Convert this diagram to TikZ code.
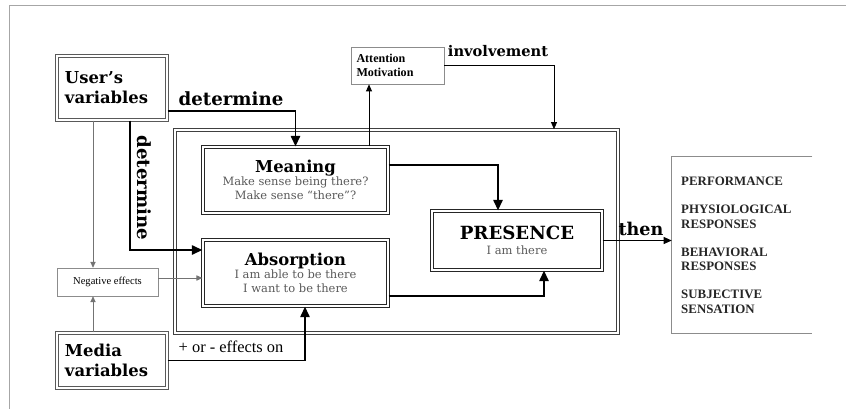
\documentclass[tikz,border=0pt]{standalone}
\usepackage{fontspec}
\setmainfont{DejaVu Serif}
\newfontfamily\timesfont{Liberation Serif}
\usetikzlibrary{arrows.meta,positioning}

\begin{document}
\begin{tikzpicture}[x=0.03cm,y=-0.03cm,
  varbox/.style={draw=black!65,double,double distance=1.1pt,line width=0.9pt,
    align=left,text width=2.82cm,minimum width=3.3cm,
    font=\bfseries\fontsize{14}{17}\selectfont},
  stagebox/.style={draw=black!85,double=white,double distance=1pt,line width=1.1pt,
    align=center,minimum width=5.55cm,minimum height=1.98cm,inner sep=1pt},
  notebox/.style={draw=black!45,line width=0.5pt,inner sep=2pt},
  heavy/.style={line width=1.5pt,-{Triangle[length=9pt,width=8pt]}},
  light/.style={line width=0.6pt,black!55,-{Triangle[length=5pt,width=4.5pt]}},
  tag/.style={font=\bfseries\fontsize{15.5}{17}\selectfont},
  sub/.style={font=\fontsize{9.8}{12.5}\selectfont,text=black!65}
]
\useasboundingbox (0,0) rectangle (846,409);
\draw[black!35,line width=0.6pt] (846,5) -- (9,5) -- (9,409);

% outer frame
\node[draw=black!75,double,double distance=1.2pt,line width=1.3pt,
  minimum width=13.29cm,minimum height=6.09cm] (frame) at (396.5,231.5) {};

% variables
\node[varbox,minimum height=1.92cm] (users) at (112,88) {User's\\variables};
\node[varbox,minimum height=1.65cm] (media) at (112,360.5) {Media\\variables};
\node[notebox,minimum width=3.03cm,minimum height=0.84cm,align=left,
  font=\timesfont\fontsize{9}{10}\selectfont] (neg) at (107.5,282) {Negative effects};
\node[notebox,minimum width=2.79cm,minimum height=1.11cm,align=left,text width=2.46cm,
  font=\timesfont\bfseries\fontsize{10.3}{12}\selectfont] (attn) at (397.5,65.5)
  {Attention\\Motivation};

% stages
\node[stagebox] (meaning) at (295.5,180)
  {{\bfseries\fontsize{14}{16}\selectfont Meaning}\\[-1pt]
   {\fontsize{9.8}{12.5}\selectfont\color{black!65}Make sense being there?}\\
   {\fontsize{9.8}{12.5}\selectfont\color{black!65}Make sense “there”?}};
\node[stagebox] (absorb) at (295.5,273)
  {{\bfseries\fontsize{14}{16}\selectfont Absorption}\\[-1pt]
   {\fontsize{9.8}{12.5}\selectfont\color{black!65}I am able to be there}\\
   {\fontsize{9.8}{12.5}\selectfont\color{black!65}I want to be there}};
\node[stagebox,minimum width=5.1cm,minimum height=1.77cm] (presence) at (517,240.5)
  {{\bfseries\fontsize{15.5}{18}\selectfont PRESENCE}\\[1pt]
   {\fontsize{9.8}{12}\selectfont\color{black!65}I am there}};

% results
\node[minimum width=4.2cm,minimum height=5.28cm] (results) at (742,245) {};
\draw[black!45,line width=0.6pt] (results.north east) -- (results.north west)
  -- (results.south west) -- (results.south east);
\node[anchor=north west,align=left,inner sep=0pt,
  font=\timesfont\bfseries\fontsize{11}{12.4}\selectfont,text=black!85] (list) at (681,177)
  {PERFORMANCE\\[11.5pt]
   PHYSIOLOGICAL\\RESPONSES\\[11.5pt]
   BEHAVIORAL\\RESPONSES\\[11.5pt]
   SUBJECTIVE\\SENSATION};

% connectors
\draw[heavy] (users.east |- 0,111) -| (meaning.north);
\node[tag] (det1) at (231,99) {determine};
\draw[heavy] (users.south -| 130,0) |- (absorb.west |- 0,250);
\node[tag,rotate=-90] (det2) at (144,188) {determine};
\draw[light] (users.south -| 93,0) -- (neg.north -| 93,0);
\draw[light] (media.north -| 93,0) -- (neg.south -| 93,0);
\draw[light] (neg.east |- 0,278) -- (absorb.west |- 0,278);
\draw[heavy] (media.east) -| (absorb.south -| 305,0);
\node[font=\timesfont\fontsize{14}{16}\selectfont] (fx) at (231,347) {+ or - effects on};
\draw[line width=0.7pt,-{Triangle[length=6pt,width=5pt]}] (meaning.north -| 369,0) -- (attn.south -| 369,0);
\draw[line width=0.7pt,-{Triangle[length=6pt,width=5pt]}] (attn.east) -| (frame.north -| 554,0);
\node[font=\bfseries\fontsize{12.5}{15}\selectfont] (inv) at (498,51) {involvement};
\draw[heavy] (meaning.east |- 0,165) -| (presence.north -| 498,0);
\draw[heavy] (absorb.east |- 0,296) -| (presence.south -| 544,0);
\draw[line width=0.9pt,-{Triangle[length=7pt,width=6pt]}] (presence.east) -- (results.west |- presence.east);
\node[tag,font=\bfseries\fontsize{15}{17}\selectfont] (then) at (641,229) {then};
\end{tikzpicture}
\end{document}
